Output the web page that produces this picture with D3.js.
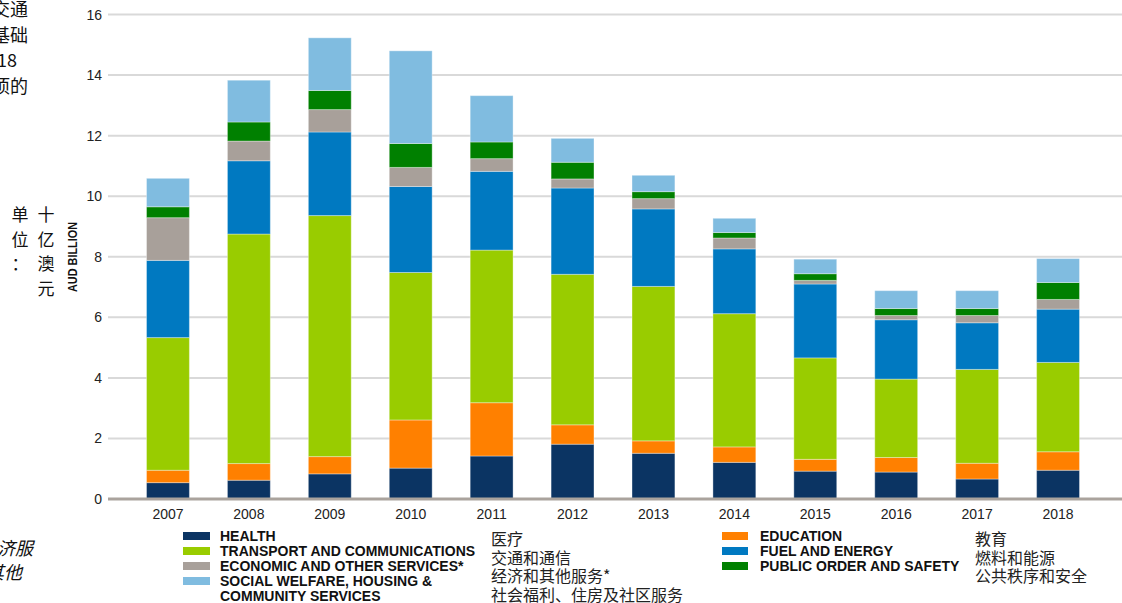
<!DOCTYPE html>
<html>
<head>
<meta charset="utf-8">
<script src="https://cdn.jsdelivr.net/npm/d3@7"></script>
<style>
  body { margin: 0; background: #fff; overflow: hidden; }
  svg { display: block; }
  .tick-label { font-family: "Liberation Sans", Arial, sans-serif; font-size: 14px; fill: #222; }
  .legend-en { font-family: "Liberation Sans", Arial, sans-serif; font-size: 14px; font-weight: bold; fill: #111; }
  .legend-cn { font-family: "Noto Sans CJK SC", sans-serif; font-size: 16px; fill: #222; }
  .cn { font-family: "Noto Sans CJK SC", sans-serif; fill: #111; }
</style>
</head>
<body>
<div id="chart"></div>
<script>
// years on the x axis
const years = ["2007","2008","2009","2010","2011","2012","2013","2014","2015","2016","2017","2018"];

// series values (AUD billion), stacked bottom -> top
const health     = [0.54, 0.62, 0.83, 1.02, 1.42, 1.81, 1.51, 1.21, 0.92, 0.89, 0.66, 0.95];
const education  = [0.41, 0.55, 0.57, 1.59, 1.76, 0.64, 0.41, 0.51, 0.39, 0.48, 0.52, 0.61];
const transport  = [4.38, 7.58, 7.96, 4.87, 5.04, 4.97, 5.10, 4.40, 3.35, 2.59, 3.10, 2.95];
const fuel       = [2.55, 2.42, 2.76, 2.84, 2.60, 2.85, 2.56, 2.14, 2.44, 1.96, 1.54, 1.76];
const economic   = [1.41, 0.65, 0.74, 0.63, 0.42, 0.30, 0.34, 0.36, 0.12, 0.14, 0.24, 0.32];
const publicOrd  = [0.36, 0.63, 0.63, 0.79, 0.55, 0.55, 0.23, 0.18, 0.22, 0.23, 0.23, 0.56];
const social     = [0.94, 1.38, 1.74, 3.06, 1.53, 0.79, 0.54, 0.47, 0.48, 0.59, 0.59, 0.79];

const yTicks = [0, 2, 4, 6, 8, 10, 12, 14, 16];

const seriesKeys  = ["health","education","transport","fuel","economic","publicOrd","social"];
const seriesVals  = [health, education, transport, fuel, economic, publicOrd, social];
const seriesColor = ["#0b3463","#ff8000","#99cc00","#0079c1","#a8a09a","#008000","#80bce0"];

// legend labels
const legendLeftEn  = ["HEALTH","TRANSPORT AND COMMUNICATIONS","ECONOMIC AND OTHER SERVICES*","SOCIAL WELFARE, HOUSING &","COMMUNITY SERVICES"];
const legendLeftKey = ["health","transport","economic","social", null];
const legendLeftCn  = ["医疗","交通和通信","经济和其他服务*","社会福利、住房及社区服务"];
const legendRightEn  = ["EDUCATION","FUEL AND ENERGY","PUBLIC ORDER AND SAFETY"];
const legendRightKey = ["education","fuel","publicOrd"];
const legendRightCn  = ["教育","燃料和能源","公共秩序和安全"];

const W = 1122, H = 603;
const svg = d3.select("#chart").append("svg").attr("width", W).attr("height", H);

// build table for the stack
const table = years.map((yr, i) => {
  const row = { year: yr };
  seriesKeys.forEach((k, j) => row[k] = seriesVals[j][i]);
  return row;
});
const stacked = d3.stack().keys(seriesKeys)(table);
const color = d3.scaleOrdinal().domain(seriesKeys).range(seriesColor);

const x = d3.scaleBand().domain(years).range([127.5, 1098.5]).paddingInner(0.47).paddingOuter(0.235);
const y = d3.scaleLinear().domain([0, 16]).range([499, 14.5]);

// gridlines
svg.append("g").selectAll("line").data(yTicks.filter(d => d > 0)).join("line")
  .attr("x1", 108).attr("x2", W)
  .attr("y1", d => y(d)).attr("y2", d => y(d))
  .attr("stroke", "#d9d9d9").attr("stroke-width", 2);

// y tick labels
svg.append("g").selectAll("text").data(yTicks).join("text")
  .attr("class", "tick-label")
  .attr("x", 102).attr("y", d => y(d)).attr("dy", "0.36em")
  .attr("text-anchor", "end").text(d => d);

// bars
svg.append("g").selectAll("g").data(stacked).join("g")
  .attr("fill", d => color(d.key))
  .selectAll("rect").data(d => d).join("rect")
  .attr("x", d => x(d.data.year))
  .attr("width", x.bandwidth())
  .attr("y", d => y(d[1]))
  .attr("height", d => y(d[0]) - y(d[1]))
  .attr("stroke", "rgba(255,255,255,0.35)").attr("stroke-width", 1);

// baseline
svg.append("line").attr("x1", 108).attr("x2", W).attr("y1", y(0)).attr("y2", y(0))
  .attr("stroke", "#aaa39d").attr("stroke-width", 3);

// x labels
svg.append("g").selectAll("text").data(years).join("text")
  .attr("class", "tick-label")
  .attr("x", d => x(d) + x.bandwidth() / 2).attr("y", 514).attr("dy", "0.36em")
  .attr("text-anchor", "middle").text(d => d);

// axis title
svg.append("text")
  .attr("transform", "translate(77,257) rotate(-90)")
  .attr("text-anchor", "middle")
  .attr("textLength", 70).attr("lengthAdjust", "spacingAndGlyphs")
  .style("font-family", "'Liberation Sans', Arial, sans-serif")
  .style("font-size", "13px").style("font-weight", "bold").attr("fill", "#111")
  .text("AUD BILLION");

// vertical chinese unit label
const unitCols = [["单","位","："], ["十","亿","澳","元"]];
unitCols.forEach((col, ci) => {
  svg.append("g").selectAll("text").data(col).join("text")
    .attr("class", "cn").style("font-size", "17px")
    .attr("x", ci === 0 ? 20 : 46).attr("y", (d, i) => 221 + i * 24.7)
    .attr("text-anchor", "middle").text(d => d);
});

// clipped paragraph text at left edge
const leftTop = ["交通", "基础", "2018", "项的"];
const leftTopEnd = [28, 28, 17, 28];
svg.append("g").selectAll("text").data(leftTop).join("text")
  .attr("class", "cn").style("font-size", "18px")
  .attr("x", (d, i) => leftTopEnd[i]).attr("y", (d, i) => 16 + i * 25.5)
  .attr("text-anchor", "end").text(d => d);

const leftBottom = ["经济服", "其他"];
svg.append("g").selectAll("text").data(leftBottom).join("text")
  .attr("class", "cn").style("font-size", "18px").style("font-style", "italic")
  .attr("x", (d, i) => i === 0 ? 33 : 22).attr("y", (d, i) => 555 + i * 24)
  .attr("text-anchor", "end").text(d => d);

// legend (left block)
const lg = svg.append("g");
legendLeftEn.forEach((t, i) => {
  const cy = 536 + i * 15;
  if (legendLeftKey[i]) {
    lg.append("rect").attr("x", 183).attr("y", cy - 4).attr("width", 27).attr("height", 8)
      .attr("fill", color(legendLeftKey[i]));
  }
  lg.append("text").attr("class", "legend-en").attr("x", 220).attr("y", cy).attr("dy", "0.36em").text(t);
});
legendLeftCn.forEach((t, i) => {
  lg.append("text").attr("class", "legend-cn").attr("x", 491).attr("y", 539 + i * 18.8).attr("dy", "0.36em").text(t);
});

// legend (right block)
legendRightEn.forEach((t, i) => {
  const cy = 536 + i * 15;
  lg.append("rect").attr("x", 722).attr("y", cy - 4).attr("width", 26).attr("height", 8)
    .attr("fill", color(legendRightKey[i]));
  lg.append("text").attr("class", "legend-en").attr("x", 760).attr("y", cy).attr("dy", "0.36em").text(t);
});
legendRightCn.forEach((t, i) => {
  lg.append("text").attr("class", "legend-cn").attr("x", 975).attr("y", 539 + i * 18.8).attr("dy", "0.36em").text(t);
});
</script>
</body>
</html>
